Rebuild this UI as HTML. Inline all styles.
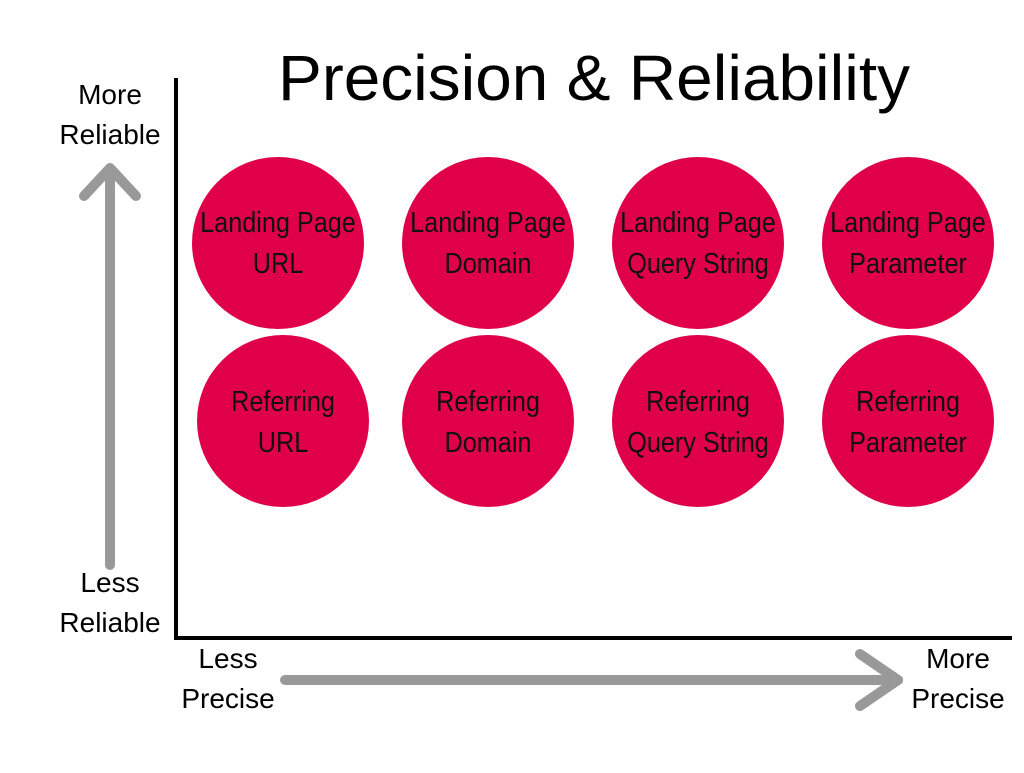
<!DOCTYPE html>
<html><head><meta charset="utf-8"><style>
html,body{margin:0;padding:0;background:#fff;}
body{width:1024px;height:768px;overflow:hidden;position:relative;}
</style></head><body>
<svg width="1024" height="768" viewBox="0 0 1024 768" xmlns="http://www.w3.org/2000/svg">
<rect width="1024" height="768" fill="#fff"/>
<text x="278" y="100" font-family="Liberation Sans, sans-serif" font-size="64" textLength="632" lengthAdjust="spacingAndGlyphs" fill="#000">Precision &amp; Reliability</text>
<line x1="176" y1="78" x2="176" y2="640" stroke="#000" stroke-width="4"/>
<line x1="174" y1="638" x2="1012" y2="638" stroke="#000" stroke-width="4"/>
<g stroke="#999" stroke-width="10" fill="none" stroke-linecap="round" stroke-linejoin="round">
<line x1="110" y1="172" x2="110" y2="565"/>
<polyline points="84,196 110,168 136,196"/>
<line x1="285" y1="680" x2="898" y2="680"/>
<polyline points="860,654 898,680 860,706"/>
</g>
<g font-family="Liberation Sans, sans-serif" font-size="28" fill="#000" text-anchor="middle">
<text x="110" y="104">More</text><text x="110" y="144">Reliable</text>
<text x="110" y="592">Less</text><text x="110" y="632">Reliable</text>
<text x="228" y="668">Less</text><text x="228" y="708">Precise</text>
<text x="958" y="668">More</text><text x="958" y="708">Precise</text>
</g>
<g fill="#e0004a">
<circle cx="278" cy="243" r="86"/><circle cx="488" cy="243" r="86"/><circle cx="698" cy="243" r="86"/><circle cx="908" cy="243" r="86"/>
<circle cx="283" cy="421" r="86"/><circle cx="488" cy="421" r="86"/><circle cx="698" cy="421" r="86"/><circle cx="908" cy="421" r="86"/>
</g>
<g font-family="Liberation Sans, sans-serif" font-size="29" fill="#111" text-anchor="middle">
<g transform="translate(278,0) scale(0.87,1)"><text x="0" y="232">Landing Page</text><text x="0" y="273">URL</text></g>
<g transform="translate(488,0) scale(0.87,1)"><text x="0" y="232">Landing Page</text><text x="0" y="273">Domain</text></g>
<g transform="translate(698,0) scale(0.87,1)"><text x="0" y="232">Landing Page</text><text x="0" y="273">Query String</text></g>
<g transform="translate(908,0) scale(0.87,1)"><text x="0" y="232">Landing Page</text><text x="0" y="273">Parameter</text></g>
<g transform="translate(283,0) scale(0.87,1)"><text x="0" y="411">Referring</text><text x="0" y="452">URL</text></g>
<g transform="translate(488,0) scale(0.87,1)"><text x="0" y="411">Referring</text><text x="0" y="452">Domain</text></g>
<g transform="translate(698,0) scale(0.87,1)"><text x="0" y="411">Referring</text><text x="0" y="452">Query String</text></g>
<g transform="translate(908,0) scale(0.87,1)"><text x="0" y="411">Referring</text><text x="0" y="452">Parameter</text></g>
</g>
</svg>
</body></html>
